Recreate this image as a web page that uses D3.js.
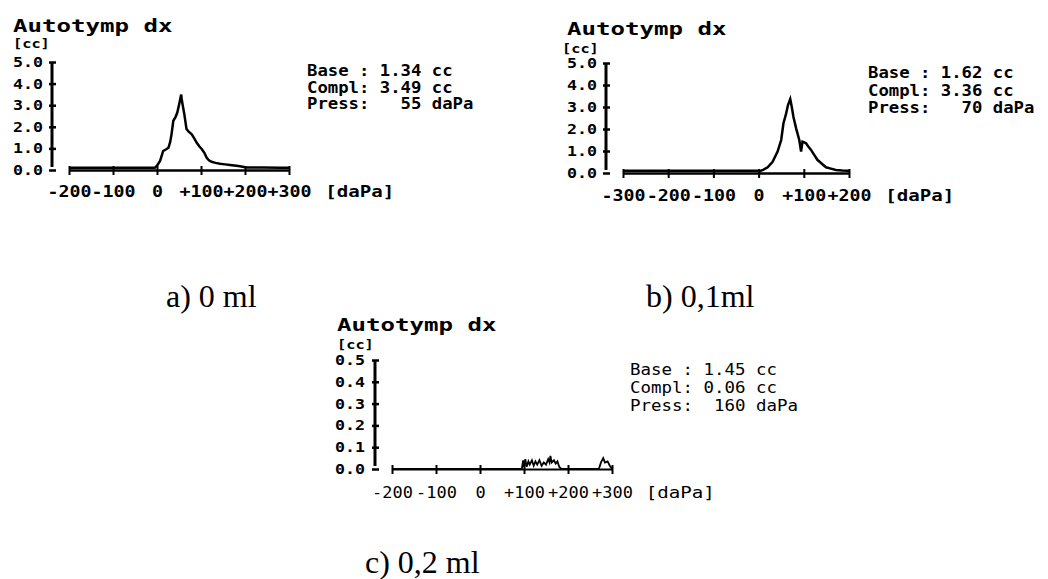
<!DOCTYPE html>
<html><head><meta charset="utf-8">
<script src="https://cdn.jsdelivr.net/npm/d3@7"></script>
<style>
html,body{margin:0;padding:0;background:#fff;}
svg{display:block;}
text{white-space:pre;}
</style></head><body>
<svg id="chart" width="1048" height="579"></svg>
<script>
// Autotymp traces: pressure [daPa] against compliance [cc]
const pressA = [-200,-150,-100,-50,-10,-5,0,7,14,20,26,30,33,37,42,46,51,53,55,56,58,62,67,72,79,85,90,96,102,108,113,118,124,133,143,155,166,185,204,240,280,300];
const complA = [0.1,0.1,0.1,0.1,0.1,0.1,0.2,0.42,0.88,0.95,1.03,1.3,1.65,2.27,2.45,2.65,3.1,3.3,3.49,3.3,3.05,2.6,1.9,1.78,1.65,1.45,1.27,1.1,0.96,0.78,0.57,0.45,0.38,0.33,0.29,0.26,0.23,0.18,0.12,0.11,0.1,0.1];

const pressB = [-300,-200,-100,-20,0,2,10,20,31,42,50,55,61,65,70,73,77,83,90,94,97,100,105,110,116,123,130,140,149,160,171,185,196,200];
const complB = [0.1,0.1,0.1,0.1,0.1,0.08,0.14,0.26,0.51,0.97,1.5,2.26,2.71,3.09,3.36,3.05,2.56,2.03,1.5,0.97,1.42,1.4,1.35,1.2,1.05,0.82,0.6,0.42,0.26,0.2,0.14,0.11,0.1,0.1];

const pressC = [-200,95,98,100,103,106,110,113,118,122,126,130,135,140,145,150,155,158,160,163,168,172,176,180,185,270,275,280,284,290,295,300];
const complC = [0,0,0.04,0.01,0.045,0.01,0.035,0.02,0.04,0.015,0.035,0.02,0.04,0.015,0.03,0.02,0.045,0.03,0.06,0.03,0.04,0.025,0.035,0.01,0,0,0.03,0.05,0.03,0.035,0.015,0];

// Readouts: base, peak compliance, peak pressure
const baseVals  = [1.34, 1.62, 1.45];
const complVals = [3.49, 3.36, 0.06];
const pressVals = [55, 70, 160];

const xTicksA = [-200,-100,0,100,200,300];
const xTicksB = [-300,-200,-100,0,100,200];
const xTicksC = [-200,-100,0,100,200,300];
const yTicksAB = [0,1,2,3,4,5];
const yTicksC = [0,0.1,0.2,0.3,0.4,0.5];

const captions = ["a) 0 ml", "b) 0,1ml", "c) 0,2 ml"];

const svg = d3.select("#chart");
const MONO = "DejaVu Sans Mono";

function txt(g, s, x, y, size, cw, weight, anchor) {
  return g.append("text")
    .attr("x", x).attr("y", y)
    .attr("font-family", MONO)
    .attr("font-weight", weight)
    .attr("font-size", size)
    .attr("text-anchor", anchor || "start")
    .attr("textLength", s.length * cw)
    .attr("lengthAdjust", "spacingAndGlyphs")
    .attr("fill", "#000")
    .text(s);
}

const xFmt = d => d > 0 ? "+" + d : (d < 0 ? "-" + Math.abs(d) : "0");

function panel(cfg, press, compl, xTicks, yTicks, yFmt, idx) {
  const g = svg.append("g");
  const w = cfg.weight;
  const x = d3.scaleLinear().domain([xTicks[0], xTicks[xTicks.length - 1]]).range([cfg.xLeft, cfg.xRight]);
  const y = d3.scaleLinear().domain([0, yTicks[yTicks.length - 1]]).range([cfg.bottom, cfg.top]);

  // title and unit
  txt(g, "Autotymp dx", cfg.titleX, cfg.titleY, 18, 14.5, "bold");
  txt(g, "[cc]", cfg.ccX, cfg.ccY, 13, 9.2, "bold");

  // y axis
  const ya = g.append("g").attr("transform", `translate(${cfg.yAxisX},0)`)
    .call(d3.axisLeft(y).tickValues(yTicks).tickFormat(yFmt).tickSize(0).tickPadding(cfg.yPad));
  ya.select(".domain").attr("stroke", "#000").attr("stroke-width", 3)
    .attr("d", `M0,${y(yTicks[yTicks.length - 1])}V${cfg.bottom - 3}`);
  ya.selectAll(".tick line").attr("x1", -3).attr("x2", 4).attr("stroke", "#000").attr("stroke-width", 2.5);
  ya.selectAll(".tick text")
    .attr("font-family", MONO).attr("font-weight", "bold").attr("font-size", 14)
    .attr("fill", "#000")
    .attr("textLength", d => yFmt(d).length * 10)
    .attr("lengthAdjust", "spacingAndGlyphs");

  // x axis
  const xa = g.append("g").attr("transform", `translate(0,${cfg.bottom})`)
    .call(d3.axisBottom(x).tickValues(xTicks).tickFormat(xFmt).tickSize(0).tickPadding(0));
  xa.select(".domain").attr("stroke", "#000").attr("stroke-width", cfg.xAxisW);
  xa.selectAll(".tick line").attr("y1", -4).attr("y2", 5).attr("stroke", "#000").attr("stroke-width", 2);
  xa.selectAll(".tick text")
    .attr("y", cfg.xLabDy).attr("dy", 0)
    .attr("font-family", MONO).attr("font-weight", w).attr("font-size", 16)
    .attr("fill", "#000")
    .attr("textLength", d => xFmt(d).length * cfg.xcw)
    .attr("lengthAdjust", "spacingAndGlyphs");
  txt(g, "[daPa]", x(xTicks[xTicks.length - 1]) + 2 * cfg.xcw + cfg.xcw * 1.3, cfg.bottom + cfg.xLabDy, 16, 11.5, w);

  // trace
  const pts = press.map((p, i) => [p, compl[i]]);
  g.append("path").datum(pts)
    .attr("fill", "none").attr("stroke", "#000").attr("stroke-width", cfg.traceW)
    .attr("stroke-linejoin", "miter")
    .attr("d", d3.line().x(d => x(d[0])).y(d => y(d[1])));

  // readouts
  const lines = [
    "Base : " + baseVals[idx].toFixed(2) + " cc",
    "Compl: " + complVals[idx].toFixed(2) + " cc",
    "Press: " + String(pressVals[idx]).padStart(4, " ") + " daPa"
  ];
  lines.forEach((s, i) => txt(g, s, cfg.infoX, cfg.infoY[i], 15, cfg.icw, w));
}

panel({xLeft: 69, xRight: 289, top: 62, bottom: 170, yAxisX: 52, yPad: 9,
       titleX: 13, titleY: 32, ccX: 13, ccY: 48, infoX: 307, infoY: [76, 93, 109],
       xLabDy: 27, xcw: 11, icw: 10.4, weight: "bold", xAxisW: 2.5, traceW: 2.5},
      pressA, complA, xTicksA, yTicksAB, d3.format(".1f"), 0);

panel({xLeft: 623, xRight: 849, top: 63, bottom: 173, yAxisX: 606, yPad: 9,
       titleX: 567, titleY: 35, ccX: 562, ccY: 53, infoX: 868, infoY: [78, 96, 113],
       xLabDy: 28, xcw: 11, icw: 10.4, weight: "bold", xAxisW: 2.5, traceW: 2.5},
      pressB, complB, xTicksB, yTicksAB, d3.format(".1f"), 1);

panel({xLeft: 392, xRight: 612, top: 360, bottom: 469, yAxisX: 375, yPad: 10,
       titleX: 337, titleY: 331, ccX: 337, ccY: 349, infoX: 630, infoY: [375, 393, 411],
       xLabDy: 29, xcw: 10.2, icw: 10.5, weight: "normal", xAxisW: 2, traceW: 1.8},
      pressC, complC, xTicksC, yTicksC, d3.format(".1f"), 2);

// captions
const capPos = [[166, 307], [646, 307], [365, 573]];
captions.forEach((c, i) => {
  svg.append("text")
    .attr("x", capPos[i][0]).attr("y", capPos[i][1])
    .attr("font-family", "Liberation Serif, Times New Roman, serif")
    .attr("font-size", 32)
    .attr("fill", "#000")
    .text(c);
});
</script>
</body></html>
